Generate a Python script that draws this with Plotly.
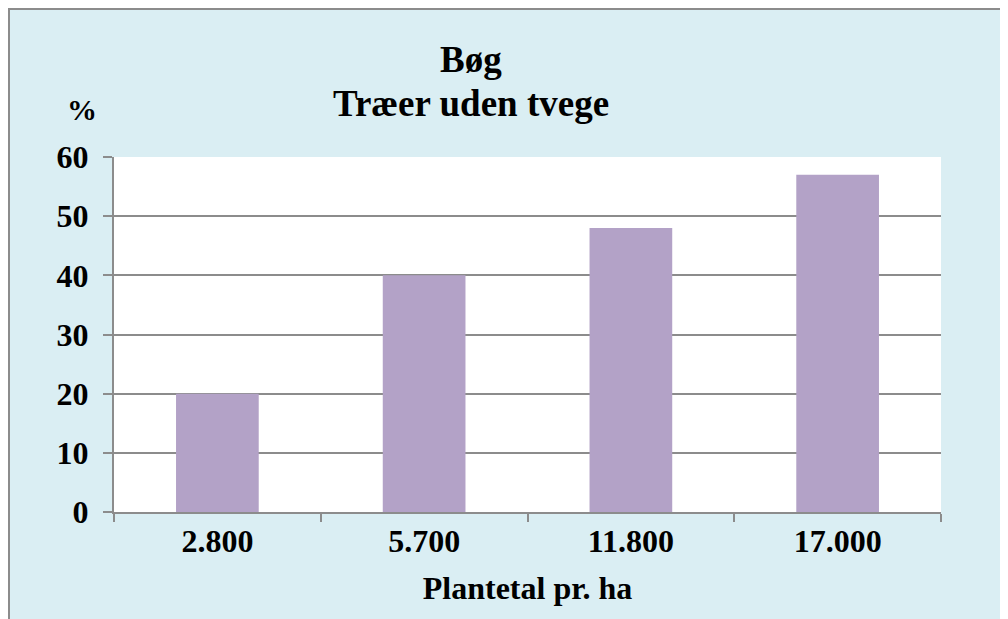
import plotly.graph_objects as go

categories = ["2.800", "5.700", "11.800", "17.000"]
values = [20, 40, 48, 57]
title_lines = ["Bøg", "Træer uden tvege"]
x_title = "Plantetal pr. ha"
y_title = "%"

W, H = 1000, 611
L, R, T, B = 106, 67, 149, 107
pw, ph = W - L - R, H - T - B

def px_x(p):
    return (p - L) / pw

def px_y(p):
    return (H - B - p) / ph

FONT = "Liberation Serif"
BG = "#DAEEF3"
GRID = "#8C8C8C"

fig = go.Figure(go.Bar(x=categories, y=values, marker=dict(color="#B3A2C7", line=dict(width=0))))

ann = [dict(text="<b>" + y_title + "</b>", x=px_x(74), y=px_y(102), xref="paper", yref="paper",
            showarrow=False, xanchor="center", yanchor="middle",
            font=dict(family=FONT, size=30, color="black"))]
for line, yc in zip(title_lines, [52, 95]):
    ann.append(dict(text="<b>" + line + "</b>", x=px_x(463), y=px_y(yc), xref="paper", yref="paper",
                    showarrow=False, xanchor="center", yanchor="middle",
                    font=dict(family=FONT, size=37, color="black")))

fig.update_layout(
    width=W, height=H,
    margin=dict(l=L, r=R, t=T, b=B, autoexpand=False),
    paper_bgcolor=BG, plot_bgcolor="white",
    bargap=0.6,
    showlegend=False,
    font=dict(family=FONT, color="black", size=32),
    xaxis=dict(showline=True, linecolor=GRID, linewidth=2, ticks="outside", tickson="boundaries",
               ticklen=8, tickcolor=GRID, tickwidth=2, showgrid=False,
               tickfont=dict(family=FONT, size=32, color="black"),
               tickprefix="<b>", ticksuffix="</b>",
               title=dict(text="<b>" + x_title + "</b>", font=dict(family=FONT, size=32), standoff=18)),
    yaxis=dict(range=[0, 60], dtick=10, showline=True, linecolor=GRID, linewidth=2,
               ticks="outside", ticklen=9, tickcolor=GRID, tickwidth=2,
               showgrid=True, gridcolor=GRID, gridwidth=2, zeroline=False,
               ticklabelstandoff=8,
               tickfont=dict(family=FONT, size=32, color="black"),
               tickprefix="<b>", ticksuffix="</b>"),
    annotations=ann,
    shapes=[
        dict(type="line", xref="paper", yref="paper", x0=px_x(1), x1=px_x(1), y0=px_y(0), y1=px_y(H),
             line=dict(width=2, color="#8C8C8C"), layer="below"),
        dict(type="line", xref="paper", yref="paper", x0=px_x(0), x1=px_x(W), y0=px_y(1), y1=px_y(1),
             line=dict(width=2, color="#8C8C8C"), layer="below"),
    ],
)

fig.write_html("out.html")
